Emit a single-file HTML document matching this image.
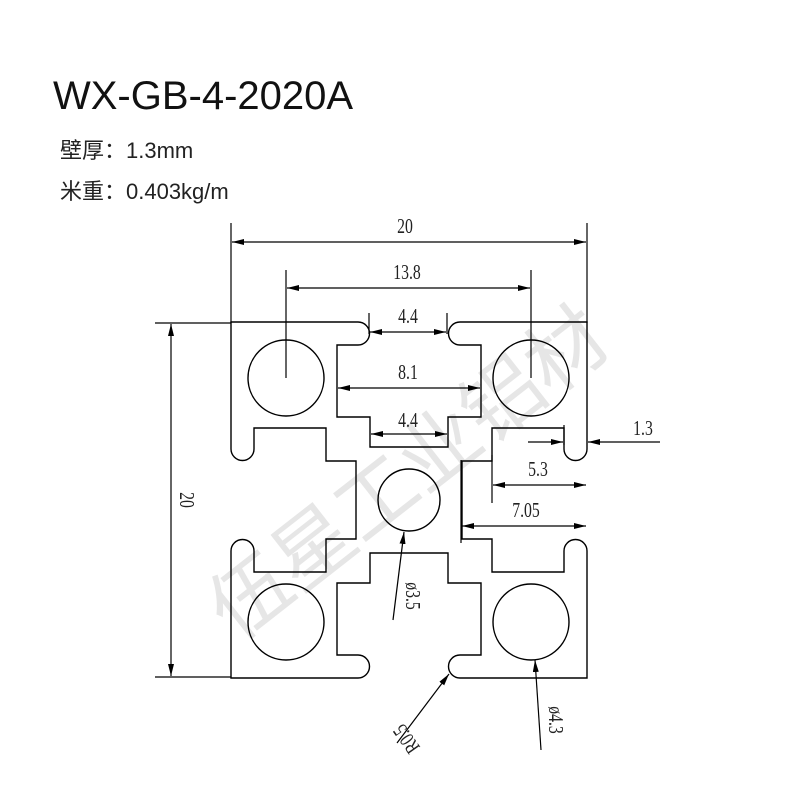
<!DOCTYPE html>
<html><head><meta charset="utf-8"><style>
html,body{margin:0;padding:0;background:#fff;}
body{width:800px;height:800px;position:relative;overflow:hidden;}
.t{position:absolute;left:53px;top:74px;font:40px "Liberation Sans",sans-serif;color:#111;}
.s{position:absolute;left:60px;font:22px "Liberation Sans","Noto Sans CJK SC",sans-serif;color:#222;}
svg{position:absolute;left:0;top:0;}
</style></head><body>
<svg width="800" height="800" viewBox="0 0 800 800">
<defs>
<marker id="a" viewBox="0 0 12 6" refX="12" refY="3" markerWidth="12" markerHeight="6" markerUnits="userSpaceOnUse" orient="auto-start-reverse"><path d="M0,0 L12,3 L0,6 Z" fill="#000"/></marker>
</defs>
<text x="412" y="478" transform="rotate(-38 412 478)" text-anchor="middle" font-family="Noto Sans CJK SC,sans-serif" font-size="80" fill="#e6e6e6" dominant-baseline="middle">伍星工业铝材</text>
<g transform="translate(409,500)" fill="none" stroke="#000" stroke-width="1.4">
<path d="M-178,-178 L-51,-178 A11.5,11.5 0 0 1 -51,-155 L-72,-155 L-72,-83 L-39,-83 L-39,-53 L39,-53 L39,-83 L72,-83 L72,-155 L51,-155 A11.5,11.5 0 0 1 51,-178 L178,-178
L178,-51 A11.5,11.5 0 0 1 155,-51 L155,-72 L83,-72 L83,-39 L53,-39 L53,39 L83,39 L83,72 L155,72 L155,51 A11.5,11.5 0 0 1 178,51 L178,178
L51,178 A11.5,11.5 0 0 1 51,155 L72,155 L72,83 L39,83 L39,53 L-39,53 L-39,83 L-72,83 L-72,155 L-51,155 A11.5,11.5 0 0 1 -51,178 L-178,178
L-178,51 A11.5,11.5 0 0 1 -155,51 L-155,72 L-83,72 L-83,39 L-53,39 L-53,-39 L-83,-39 L-83,-72 L-155,-72 L-155,-51 A11.5,11.5 0 0 1 -178,-51 Z"/>
<circle cx="-123" cy="-122" r="38"/><circle cx="122" cy="-122" r="38"/>
<circle cx="-123" cy="122" r="38"/><circle cx="122" cy="122" r="38"/>
<circle cx="0" cy="0" r="31"/>
</g>
<g stroke="#000" stroke-width="1.2" fill="none">
<line x1="231" y1="223" x2="231" y2="323"/><line x1="587" y1="223" x2="587" y2="323"/>
<line x1="232" y1="242" x2="586" y2="242" marker-start="url(#a)" marker-end="url(#a)"/>
<line x1="286" y1="270" x2="286" y2="378"/><line x1="531" y1="270" x2="531" y2="378"/>
<line x1="287" y1="288" x2="530" y2="288" marker-start="url(#a)" marker-end="url(#a)"/>
<line x1="369" y1="313" x2="369" y2="334"/><line x1="447" y1="313" x2="447" y2="334"/>
<line x1="370" y1="332" x2="446" y2="332" marker-start="url(#a)" marker-end="url(#a)"/>
<line x1="338" y1="388" x2="480" y2="388" marker-start="url(#a)" marker-end="url(#a)"/>
<line x1="371" y1="434" x2="447" y2="434" marker-start="url(#a)" marker-end="url(#a)"/>
<line x1="564" y1="425" x2="564" y2="445"/>
<line x1="528" y1="442" x2="563" y2="442" marker-end="url(#a)"/>
<line x1="660" y1="442" x2="588" y2="442" marker-end="url(#a)"/>
<line x1="492" y1="455" x2="492" y2="503"/>
<line x1="493" y1="485" x2="586" y2="485" marker-start="url(#a)" marker-end="url(#a)"/>
<line x1="461" y1="460" x2="461" y2="543"/>
<line x1="462" y1="526" x2="586" y2="526" marker-start="url(#a)" marker-end="url(#a)"/>
<line x1="155" y1="323" x2="231" y2="323"/><line x1="155" y1="677" x2="231" y2="677"/>
<line x1="171" y1="324" x2="171" y2="676" marker-start="url(#a)" marker-end="url(#a)"/>
<line x1="393" y1="620" x2="404" y2="532" marker-end="url(#a)"/>
<line x1="397" y1="743" x2="449" y2="674" marker-end="url(#a)"/>
<line x1="541" y1="750" x2="535" y2="660" marker-end="url(#a)"/>
</g>
<g font-family="Liberation Serif,serif" font-size="21" fill="#222" text-anchor="middle">
<text transform="translate(405,233) scale(0.75,1)">20</text>
<text transform="translate(407,279) scale(0.75,1)">13.8</text>
<text transform="translate(408,323) scale(0.75,1)">4.4</text>
<text transform="translate(408,379) scale(0.75,1)">8.1</text>
<text transform="translate(408,427) scale(0.75,1)">4.4</text>
<text transform="translate(643,435) scale(0.75,1)">1.3</text>
<text transform="translate(538,476) scale(0.75,1)">5.3</text>
<text transform="translate(526,517) scale(0.75,1)">7.05</text>
<text transform="translate(180,500) rotate(90) scale(0.75,1)">20</text>
<text transform="translate(406,596) rotate(90) scale(0.75,1)">ø3.5</text>
<text transform="translate(412,735) rotate(-125) scale(0.75,1)">R0.5</text>
<text transform="translate(549,720) rotate(90) scale(0.75,1)">ø4.3</text>
</g>
</svg>
<div class="t">WX-GB-4-2020A</div>
<div class="s" style="top:133px">壁厚：1.3mm</div>
<div class="s" style="top:174px">米重：0.403kg/m</div>
</body></html>
